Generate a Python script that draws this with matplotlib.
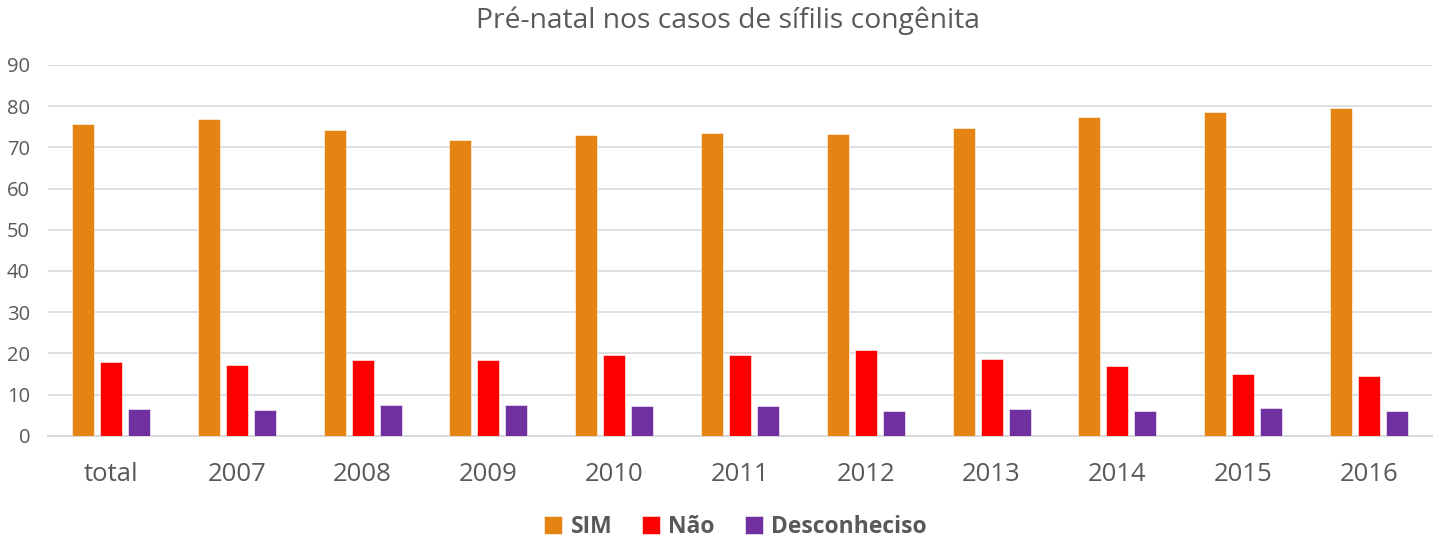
import matplotlib
matplotlib.use("Agg")
import matplotlib.pyplot as plt
import numpy as np

categories = ["total", "2007", "2008", "2009", "2010", "2011", "2012", "2013", "2014", "2015", "2016"]
sim = [75.6, 76.8, 74.3, 71.7, 73.1, 73.5, 73.3, 74.8, 77.3, 78.5, 79.5]
nao = [17.8, 17.1, 18.4, 18.4, 19.7, 19.5, 20.7, 18.6, 16.9, 15.0, 14.5]
desc = [6.6, 6.3, 7.4, 7.4, 7.3, 7.2, 6.1, 6.6, 5.9, 6.7, 6.0]
series_names = ["SIM", "Não", "Desconheciso"]
colors = ["#E68413", "#FF0000", "#7030A0"]
title = "Pré-natal nos casos de sífilis congênita"

plt.rcParams['font.family'] = ['Open Sans', 'DejaVu Sans']
txt = "#595959"

fig = plt.figure(figsize=(14.39, 5.41), dpi=100)
ax = fig.add_axes([0.0334, 0.1946, 0.9616, 0.6853])

x = np.arange(len(categories))
w = 0.175
off = 0.2226
for i, (vals, name, c) in enumerate(zip([sim, nao, desc], series_names, colors)):
    ax.bar(x + (i - 1) * off, vals, width=w, color=c, label=name,
           edgecolor="white", linewidth=0.4, zorder=3)

ax.set_xlim(-0.5, len(categories) - 0.5)
ax.set_ylim(0, 90)
ax.set_yticks(range(0, 91, 10))
ax.grid(axis="y", color="#D9D9D9", linewidth=1.2, zorder=0)
ax.set_axisbelow(True)
for s in ["top", "right", "left"]:
    ax.spines[s].set_visible(False)
ax.spines["bottom"].set_color("#D9D9D9")
ax.spines["bottom"].set_linewidth(1.5)
ax.tick_params(axis="both", length=0, colors=txt)
ax.tick_params(axis="y", labelsize=14.5, pad=13)
ax.tick_params(axis="x", labelsize=18.5, pad=19)
ax.set_xticks(x)
ax.set_xticklabels(categories)

fig.text(0.506, 0.962, title, ha="center", va="center", fontsize=20.3, color=txt)

leg = fig.legend(loc="center", bbox_to_anchor=(0.511, 0.026), ncol=3, frameon=False,
                 prop={"weight": "bold", "size": 16.5}, handlelength=0.8, handleheight=0.8,
                 columnspacing=1.3, handletextpad=0.35)
for t in leg.get_texts():
    t.set_color(txt)

fig.savefig("out.png", dpi=100)
